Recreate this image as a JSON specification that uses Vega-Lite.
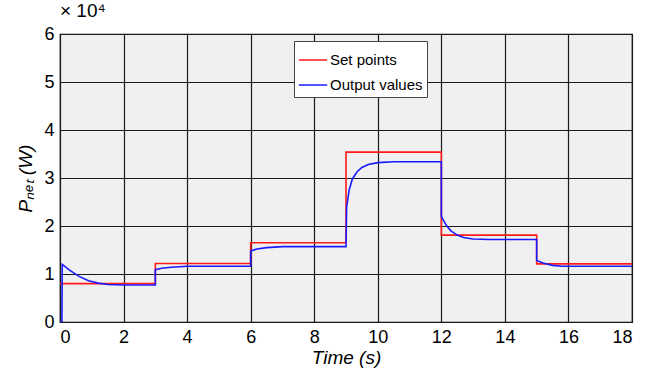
{
  "$schema": "https://vega.github.io/schema/vega-lite/v6.json",
  "width": 572,
  "height": 288,
  "autosize": {"type": "none"},
  "padding": {"left": 60, "top": 34, "right": 22, "bottom": 52},
  "background": "white",
  "title": {"text": "× 10⁴", "anchor": "start", "frame": "group", "font": "Liberation Sans", "fontSize": 19, "fontWeight": "normal", "color": "black", "offset": 4, "dx": 0},
  "config": {
    "view": {"fill": "#f0f0f0", "stroke": "black", "strokeWidth": 1.2},
    "axis": {"labelFont": "Liberation Sans", "titleFont": "Liberation Sans", "labelFontSize": 18, "labelColor": "black", "titleFontSize": 19, "titleFontWeight": "normal", "titleColor": "black", "grid": true, "gridColor": "#1a1a1a", "gridWidth": 1.2, "gridOpacity": 1, "domain": false, "ticks": false, "labelPadding": 6}
  },
  "data": {"values": [
    {"s": "Set points", "i": 0, "t": 0, "v": 8000},
    {"s": "Set points", "i": 1, "t": 3, "v": 8000},
    {"s": "Set points", "i": 2, "t": 3, "v": 12200},
    {"s": "Set points", "i": 3, "t": 6, "v": 12200},
    {"s": "Set points", "i": 4, "t": 6, "v": 16500},
    {"s": "Set points", "i": 5, "t": 9, "v": 16500},
    {"s": "Set points", "i": 6, "t": 9, "v": 35400},
    {"s": "Set points", "i": 7, "t": 12, "v": 35400},
    {"s": "Set points", "i": 8, "t": 12, "v": 18100},
    {"s": "Set points", "i": 9, "t": 15, "v": 18100},
    {"s": "Set points", "i": 10, "t": 15, "v": 12100},
    {"s": "Set points", "i": 11, "t": 18, "v": 12100},
    {"s": "Output values", "i": 0, "t": 0, "v": 0},
    {"s": "Output values", "i": 1, "t": 0.06, "v": 0},
    {"s": "Output values", "i": 2, "t": 0.07, "v": 12000},
    {"s": "Output values", "i": 3, "t": 0.3, "v": 10800},
    {"s": "Output values", "i": 4, "t": 0.6, "v": 9500},
    {"s": "Output values", "i": 5, "t": 0.9, "v": 8600},
    {"s": "Output values", "i": 6, "t": 1.2, "v": 8100},
    {"s": "Output values", "i": 7, "t": 1.5, "v": 7800},
    {"s": "Output values", "i": 8, "t": 2.0, "v": 7700},
    {"s": "Output values", "i": 9, "t": 3.0, "v": 7700},
    {"s": "Output values", "i": 10, "t": 3.0, "v": 10900},
    {"s": "Output values", "i": 11, "t": 3.2, "v": 11200},
    {"s": "Output values", "i": 12, "t": 3.5, "v": 11400},
    {"s": "Output values", "i": 13, "t": 4.0, "v": 11600},
    {"s": "Output values", "i": 14, "t": 6.0, "v": 11600},
    {"s": "Output values", "i": 15, "t": 6.0, "v": 14800},
    {"s": "Output values", "i": 16, "t": 6.2, "v": 15200},
    {"s": "Output values", "i": 17, "t": 6.5, "v": 15500},
    {"s": "Output values", "i": 18, "t": 7.0, "v": 15700},
    {"s": "Output values", "i": 19, "t": 9.0, "v": 15700},
    {"s": "Output values", "i": 20, "t": 9.02, "v": 24000},
    {"s": "Output values", "i": 21, "t": 9.1, "v": 27500},
    {"s": "Output values", "i": 22, "t": 9.2, "v": 29800},
    {"s": "Output values", "i": 23, "t": 9.35, "v": 31300},
    {"s": "Output values", "i": 24, "t": 9.5, "v": 32200},
    {"s": "Output values", "i": 25, "t": 9.7, "v": 32800},
    {"s": "Output values", "i": 26, "t": 10.0, "v": 33200},
    {"s": "Output values", "i": 27, "t": 10.5, "v": 33400},
    {"s": "Output values", "i": 28, "t": 12.0, "v": 33400},
    {"s": "Output values", "i": 29, "t": 12.0, "v": 22000},
    {"s": "Output values", "i": 30, "t": 12.15, "v": 20200},
    {"s": "Output values", "i": 31, "t": 12.3, "v": 19000},
    {"s": "Output values", "i": 32, "t": 12.5, "v": 18100},
    {"s": "Output values", "i": 33, "t": 12.7, "v": 17600},
    {"s": "Output values", "i": 34, "t": 13.0, "v": 17300},
    {"s": "Output values", "i": 35, "t": 13.5, "v": 17200},
    {"s": "Output values", "i": 36, "t": 15.0, "v": 17200},
    {"s": "Output values", "i": 37, "t": 15.0, "v": 12800},
    {"s": "Output values", "i": 38, "t": 15.2, "v": 12300},
    {"s": "Output values", "i": 39, "t": 15.5, "v": 11800},
    {"s": "Output values", "i": 40, "t": 15.8, "v": 11600},
    {"s": "Output values", "i": 41, "t": 18.0, "v": 11600}
  ]},
  "mark": {"type": "line", "strokeWidth": 1.6, "clip": true},
  "encoding": {
    "x": {"field": "t", "type": "quantitative", "scale": {"domain": [0, 18], "nice": false, "zero": false}, "axis": {"values": [0,2,4,6,8,10,12,14,16,18], "title": "Time (s)", "titleFontStyle": "italic", "titlePadding": 2}},
    "y": {"field": "v", "type": "quantitative", "scale": {"domain": [0, 60000], "nice": false}, "axis": {"values": [0,10000,20000,30000,40000,50000,60000], "labelExpr": "datum.value / 10000", "title": "Pₙₑₜ (W)", "titleFontStyle": "italic", "titlePadding": 8}},
    "color": {"field": "s", "type": "nominal", "scale": {"domain": ["Set points", "Output values"], "range": ["#ff1a1a", "#1a1aff"]},
      "legend": {"title": null, "orient": "none", "legendX": 234, "legendY": 7, "symbolType": "stroke", "symbolSize": 800, "symbolStrokeWidth": 1.5, "labelFont": "Liberation Sans", "labelFontSize": 15, "labelColor": "black", "fillColor": "white", "strokeColor": "#444", "padding": 4, "rowPadding": 2, "labelOffset": 2}},
    "order": {"field": "i", "type": "quantitative"}
  }
}
